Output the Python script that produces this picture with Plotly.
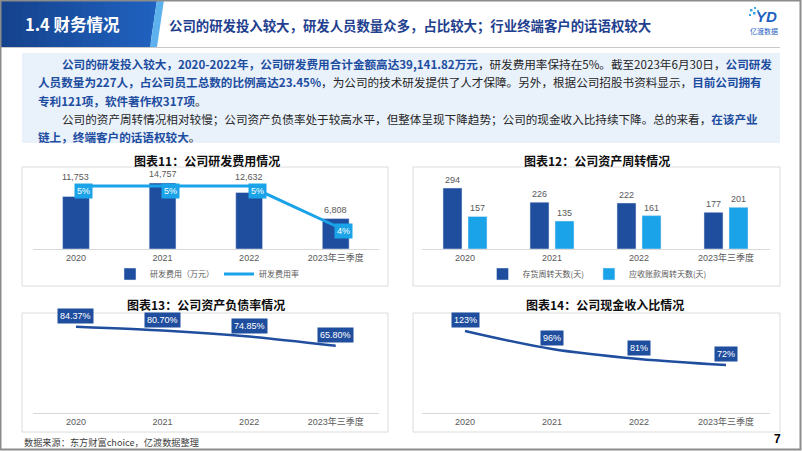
import plotly.graph_objects as go

W, H = 802, 451


def X(px):
    return px / W


def Y(py):
    return 1 - py / H


# ---------------- data ----------------
categories = ["2020", "2021", "2022", "2023年三季度"]
rd_expense = [11753, 14757, 12632, 6808]          # 研发费用（万元）
rd_rate = [5, 5, 5, 4]                             # 研发费用率 (%)
inventory_days = [294, 226, 222, 177]              # 存货周转天数(天)
receivable_days = [157, 135, 161, 201]             # 应收账款周转天数(天)
debt_ratio = [84.37, 80.70, 74.85, 65.80]          # 资产负债率 (%)
cash_ratio = [123, 96, 81, 72]                     # 现金收入比 (%)

DARK = "#1f4e9e"
LIGHT = "#1aa3e8"
GRAY_TXT = "#595959"
FONT = "Liberation Sans, Noto Sans CJK SC, sans-serif"
CJK = "Noto Sans CJK SC, Liberation Sans, sans-serif"

Y1MAX = 17660
Y5RANGE = [3.425, 5.4]

fig = go.Figure()

# chart 11
fig.add_trace(go.Bar(x=categories, y=rd_expense, name="研发费用（万元）", marker_color=DARK,
                     width=0.31, xaxis="x", yaxis="y", legend="legend", hoverinfo="skip"))
fig.add_trace(go.Scatter(x=categories, y=rd_rate, name="研发费用率", mode="lines",
                         line=dict(color=LIGHT, width=3), xaxis="x", yaxis="y5",
                         legend="legend", hoverinfo="skip"))
# chart 12
fig.add_trace(go.Bar(x=categories, y=inventory_days, name="存货周转天数(天)", marker_color=DARK,
                     text=inventory_days, textposition="outside", cliponaxis=False,
                     textfont=dict(size=9, color=GRAY_TXT, family=FONT),
                     xaxis="x2", yaxis="y2", legend="legend2", hoverinfo="skip"))
fig.add_trace(go.Bar(x=categories, y=receivable_days, name="应收账款周转天数(天)", marker_color=LIGHT,
                     text=receivable_days, textposition="outside", cliponaxis=False,
                     textfont=dict(size=9, color=GRAY_TXT, family=FONT),
                     xaxis="x2", yaxis="y2", legend="legend2", hoverinfo="skip"))
# chart 13
fig.add_trace(go.Scatter(x=categories, y=debt_ratio, mode="lines",
                         line=dict(color=DARK, width=2.5, shape="spline", smoothing=0.6),
                         xaxis="x3", yaxis="y3", showlegend=False, hoverinfo="skip"))
# chart 14
fig.add_trace(go.Scatter(x=categories, y=cash_ratio, mode="lines",
                         line=dict(color=DARK, width=2.5, shape="spline"),
                         xaxis="x4", yaxis="y4", showlegend=False, hoverinfo="skip"))

xdomL = [X(32.7), X(379)]
xdomR = [X(421.5), X(769.5)]
ydomT = [Y(249), Y(170)]
ydomB = [Y(413), Y(318)]


def xax(dom, anchor):
    return dict(domain=dom, anchor=anchor, type="category", range=[-0.5, 3.5],
                showline=True, linecolor="#d9d9d9", linewidth=1, ticks="",
                tickfont=dict(size=9, color=GRAY_TXT, family=FONT),
                showgrid=False, zeroline=False, fixedrange=True)


def yax(dom, rng, anchor):
    return dict(domain=dom, anchor=anchor, range=rng, visible=False,
                showgrid=False, zeroline=False, fixedrange=True)


shapes = []
annotations = []


def rect(x0, y0, x1, y1, fill=None, line=None, lw=0, layer="below"):
    d = dict(type="rect", xref="paper", yref="paper", x0=X(x0), x1=X(x1), y0=Y(y1), y1=Y(y0),
             layer=layer, line=dict(width=lw, color=line or "rgba(0,0,0,0)"))
    if fill:
        d["fillcolor"] = fill
    shapes.append(d)


def poly(pts, fill, layer="below"):
    p = "M " + " L ".join(f"{X(a)},{Y(b)}" for a, b in pts) + " Z"
    shapes.append(dict(type="path", xref="paper", yref="paper", path=p, fillcolor=fill,
                       line=dict(width=0), layer=layer))


def lerp(c1, c2, t):
    a = [int(c1[i:i + 2], 16) for i in (1, 3, 5)]
    b = [int(c2[i:i + 2], 16) for i in (1, 3, 5)]
    return "#" + "".join(f"{int(round(a[k] + (b[k] - a[k]) * t)):02x}" for k in range(3))


# header gradient
N = 20
for i in range(N):
    xa, xb = 150 * i / N, 150 * (i + 1) / N + 0.6
    rect(xa, 0, xb, 47, fill=lerp("#15428d", "#2062c0", i / N))
poly([(150, 0), (157, 0), (150, 47)], "#2062c0")
poly([(157, 0), (164, 0), (157, 47), (150, 47)], "#5db2ee")
# header underline
shapes.append(dict(type="line", xref="paper", yref="paper", x0=X(0), x1=X(780), y0=Y(47.5), y1=Y(47.5),
                   line=dict(color="#c8c8c8", width=1), layer="below"))
# text box
rect(22, 53, 780, 143, fill="#e9f1fb")
# chart frames
rect(22, 167, 388, 286, line="#dcdcdc", lw=1)
rect(413, 167, 780, 286, line="#dcdcdc", lw=1)
rect(22, 313, 388, 432, line="#dcdcdc", lw=1)
rect(413, 313, 780, 432, line="#dcdcdc", lw=1)
# slide border
rect(0.5, 0.5, 800.5, 449.5, line="#8c8c8c", lw=2, layer="above")
# logo dots
for (a, b, s) in [(750, 9, 2.5), (754, 7, 2), (753, 12, 2.5), (757, 10, 2), (749, 14, 2)]:
    rect(a, b, a + s, b + s, fill="#39a6e8", layer="above")


def ann(x, y, text, size, color="#000", family=CJK, xanchor="center", yanchor="middle", **kw):
    annotations.append(dict(x=X(x), y=Y(y), xref="paper", yref="paper", text=text, showarrow=False,
                            xanchor=xanchor, yanchor=yanchor,
                            font=dict(size=size, color=color, family=family), **kw))


# header texts
ann(23, 24, "<b>1.4 财务情况</b>", 16.5, "#ffffff", xanchor="left")
ann(167, 25, "<b>公司的研发投入较大，研发人员数量众多，占比较大；行业终端客户的话语权较大</b>",
    13.4, "#1f3f8f", xanchor="left")
ann(766, 16, "<b><i>YD</i></b>", 15, "#1f5fbf", family="Liberation Sans, sans-serif")
ann(764, 31, "亿渡数据", 7, "#1f5fbf")

BLUE_T = "#1d4d9f"


def B(t):
    return f"<span style='color:{BLUE_T}'><b>{t}</b></span>"


def K(t):
    return f"<span style='color:#262626'>{t}</span>"


body = [
    (60, 64, B("公司的研发投入较大，2020-2022年，公司研发费用合计金额高达39,141.82万元")
     + K("，研发费用率保持在5%。截至2023年6月30日，") + B("公司研发")),
    (36, 82.5, B("人员数量为227人，占公司员工总数的比例高达23.45%")
     + K("，为公司的技术研发提供了人才保障。另外，根据公司招股书资料显示，") + B("目前公司拥有")),
    (36, 101, B("专利121项，软件著作权317项") + K("。")),
    (60, 119.5, K("公司的资产周转情况相对较慢；公司资产负债率处于较高水平，但整体呈现下降趋势；公司的现金收入比持续下降。总的来看，")
     + B("在该产业")),
    (36, 136.5, B("链上，终端客户的话语权较大") + K("。")),
]
for (x, y, t) in body:
    ann(x, y, t, 11.6, "#262626", xanchor="left")

# chart titles
ann(207, 160, "<b>图表11：公司研发费用情况</b>", 12, "#0d0d0d")
ann(597, 160, "<b>图表12：公司资产周转情况</b>", 12, "#0d0d0d")
ann(206, 304, "<b>图表13：公司资产负债率情况</b>", 12, "#0d0d0d")
ann(605, 304, "<b>图表14：公司现金收入比情况</b>", 12, "#0d0d0d")

# footer
ann(22, 442, "数据来源：东方财富choice，亿渡数据整理", 9.2, "#404040", xanchor="left")
ann(777, 439, "<b>7</b>", 12, "#000000", family="Liberation Sans, sans-serif")

# data labels chart 11 (x given as category index)
for i, (v, r) in enumerate(zip(rd_expense, rd_rate)):
    r_in_y1 = (r - Y5RANGE[0]) / (Y5RANGE[1] - Y5RANGE[0]) * Y1MAX
    annotations.append(dict(x=i, y=max(v, r_in_y1), xref="x", yref="y", text=f"{v:,}",
                            showarrow=False, yanchor="bottom", yshift=2,
                            font=dict(size=9, color=GRAY_TXT, family=FONT)))
    annotations.append(dict(x=i, y=r, xref="x", yref="y5", text=f"{r}%", showarrow=False,
                            xshift=8, yshift=-5, bgcolor=LIGHT, borderpad=2,
                            font=dict(size=9, color="#ffffff", family=FONT)))
# chart 13
for i, v in enumerate(debt_ratio):
    annotations.append(dict(x=i, y=v, xref="x3", yref="y3", text=f"{v:.2f}%", showarrow=False,
                            yanchor="bottom", yshift=3, bgcolor=DARK, borderpad=2,
                            font=dict(size=9, color="#ffffff", family=FONT)))
# chart 14
for i, v in enumerate(cash_ratio):
    annotations.append(dict(x=i, y=v, xref="x4", yref="y4", text=f"{v}%", showarrow=False,
                            yanchor="bottom", yshift=3, bgcolor=DARK, borderpad=2,
                            font=dict(size=9, color="#ffffff", family=FONT)))

leg = dict(orientation="h", xanchor="center", yanchor="middle", y=Y(274),
           font=dict(size=8, color=GRAY_TXT, family=CJK), bgcolor="rgba(0,0,0,0)",
           itemwidth=30, tracegroupgap=0)

fig.update_layout(
    width=W, height=H, autosize=False,
    margin=dict(l=0, r=0, t=0, b=0),
    paper_bgcolor="#ffffff", plot_bgcolor="rgba(0,0,0,0)",
    font=dict(family=FONT),
    barmode="group", bargap=0.425, bargroupgap=0.24,
    showlegend=True,
    legend=dict(leg, x=X(207)),
    legend2=dict(leg, x=X(597)),
    xaxis=xax(xdomL, "y"), yaxis=yax(ydomT, [0, Y1MAX], "x"),
    yaxis5=dict(overlaying="y", range=Y5RANGE, visible=False, showgrid=False, zeroline=False),
    xaxis2=xax(xdomR, "y2"), yaxis2=yax(ydomT, [0, 381], "x2"),
    xaxis3=xax(xdomL, "y3"), yaxis3=yax(ydomB, [0, 93], "x3"),
    xaxis4=xax(xdomR, "y4"), yaxis4=yax(ydomB, [0, 142.5], "x4"),
    shapes=shapes, annotations=annotations,
)

fig.write_html("out.html", config={"displayModeBar": False},
               post_script="document.body.style.margin='0';document.body.style.overflow='hidden';")
